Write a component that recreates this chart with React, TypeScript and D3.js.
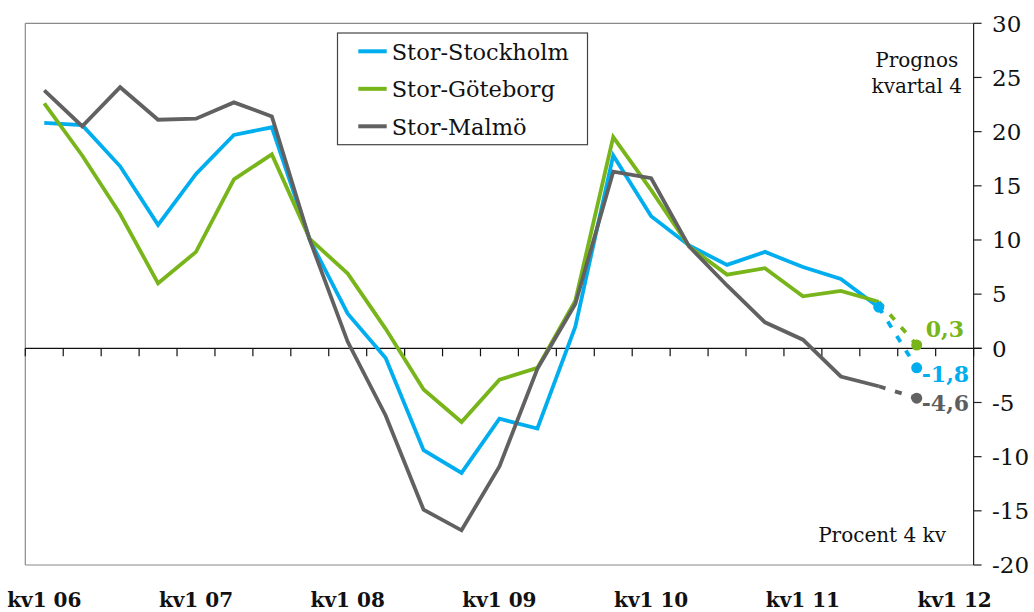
import React from "react";
import * as d3 from "d3";

const years = ["06", "07", "08", "09", "10", "11", "12"];
const quarters: string[] = [];
years.forEach((yr, yi) => {
  const n = yi === years.length - 1 ? 1 : 4;
  for (let q = 1; q <= n; q++) quarters.push(`kv${q} ${yr}`);
});
const xTickLabels = ["kv1 06", "kv1 07", "kv1 08", "kv1 09", "kv1 10", "kv1 11", "kv1 12"];
const yTicks = [30, 25, 20, 15, 10, 5, 0, -5, -10, -15, -20];

const seriesNames = ["Stor-Stockholm", "Stor-Göteborg", "Stor-Malmö"];
const stockholm = [20.8, 20.6, 16.8, 11.4, 16.1, 19.7, 20.4, 10.0, 3.2, -0.9, -9.4, -11.5, -6.5, -7.4, 2.0, 17.8, 12.2, 9.5, 7.7, 8.9, 7.5, 6.4, 3.8];
const goteborg = [22.6, 17.8, 12.4, 6.0, 8.9, 15.6, 17.9, 10.1, 6.9, 1.8, -3.8, -6.8, -2.9, -1.8, 4.4, 19.5, 14.6, 9.4, 6.8, 7.4, 4.8, 5.3, 4.3];
const malmo = [23.8, 20.5, 24.1, 21.1, 21.2, 22.7, 21.4, 10.0, 0.6, -6.2, -14.9, -16.8, -10.9, -1.9, 4.1, 16.3, 15.7, 9.4, 5.8, 2.4, 0.8, -2.6, -3.5];
const forecastQuarter = "kv4 11";
const forecast = [-1.8, 0.3, -4.6];
const forecastLabels = ["-1,8", "0,3", "-4,6"];

const colors = ["#00AEEF", "#78B51A", "#616161"];
const labelColors = ["#00AEEF", "#78B51A", "#5E5E5E"];
const labelDx = [5, 9, 5];
const labelDy = [14.5, -8.5, 12.5];

const W = 1034, H = 612;
const serif = "'DejaVu Serif', serif";

export default function App() {
  const x = d3.scaleBand<string>().domain(quarters).range([25.3, 973.6]).padding(0);
  const bw = x.bandwidth();
  const cx = (q: string) => (x(q) as number) + bw / 2;
  const y = d3.scaleLinear().domain([-20, 30]).range([565, 23.3]);
  const left = 25.3, right = 973.6, top = y(30), bottom = y(-20);

  const all = [stockholm, goteborg, malmo];
  const line = d3.line<number>().x((_, i) => cx(quarters[i])).y((d) => y(d));
  const lastQ = quarters[stockholm.length - 1];
  const fx = cx(forecastQuarter);

  const boundaries = d3.range(quarters.length + 1).map((k) => left + k * bw);

  return (
    <svg width={W} height={H} style={{ position: "absolute", left: 0, top: 0, background: "#fff" }} fontFamily={serif}>
      <rect x={0} y={0} width={W} height={H} fill="#fff" />
      {/* plot border */}
      <line x1={left} x2={right} y1={top} y2={top} stroke="#8a8a8a" strokeWidth={1.2} />
      <line x1={left} x2={left} y1={top} y2={bottom} stroke="#8a8a8a" strokeWidth={1.2} />
      <line x1={left} x2={right} y1={bottom} y2={bottom} stroke="#8a8a8a" strokeWidth={1.2} />
      {/* right axis */}
      <line x1={right} x2={right} y1={top} y2={bottom} stroke="#222" strokeWidth={1.2} />
      {yTicks.map((t) => (
        <g key={t}>
          <line x1={right} x2={right + 8} y1={y(t)} y2={y(t)} stroke="#222" strokeWidth={1.2} />
          <text x={992} y={y(t)} dy="0.36em" fontSize={23} fill="#111">{String(t)}</text>
        </g>
      ))}
      {/* zero line with category ticks */}
      <line x1={left} x2={right + 8} y1={y(0)} y2={y(0)} stroke="#111" strokeWidth={1.2} />
      {boundaries.map((bx, k) => (
        <line key={k} x1={bx} x2={bx} y1={y(0)} y2={y(0) + 8} stroke="#111" strokeWidth={1.2} />
      ))}
      {/* x labels */}
      {xTickLabels.map((l) => (
        <text key={l} x={cx(l)} y={607} textAnchor="middle" fontSize={20} fontWeight="bold" fill="#111">{l}</text>
      ))}
      {/* solid lines */}
      {all.map((s, si) => (
        <path key={si} d={line(s) || ""} fill="none" stroke={colors[si]} strokeWidth={3.8} strokeLinejoin="miter" />
      ))}
      {/* dashed forecast segments */}
      {all.map((s, si) => (
        <line key={"f" + si} x1={cx(lastQ)} y1={y(s[s.length - 1])} x2={fx} y2={y(forecast[si])}
          stroke={colors[si]} strokeWidth={3.8} strokeDasharray="7,10" />
      ))}
      <circle cx={cx(lastQ)} cy={y(stockholm[stockholm.length - 1])} r={5.5} fill={colors[0]} />
      {forecast.map((v, si) => (
        <circle key={"d" + si} cx={fx} cy={y(v)} r={5.5} fill={colors[si]} />
      ))}
      {forecast.map((v, si) => (
        <text key={"l" + si} x={fx + labelDx[si]} y={y(v) + labelDy[si]} fontSize={22} fontWeight="bold" fill={labelColors[si]}>
          {forecastLabels[si]}
        </text>
      ))}
      {/* annotations */}
      <text x={fx} y={66.7} textAnchor="middle" fontSize={20} fill="#111">Prognos</text>
      <text x={fx} y={93.3} textAnchor="middle" fontSize={20} fill="#111">kvartal 4</text>
      <text x={946} y={541.7} textAnchor="end" fontSize={20} fill="#111">Procent 4 kv</text>
      {/* legend */}
      <rect x={337.5} y={33} width={250} height={111.7} fill="#fff" stroke="#444" strokeWidth={1.2} />
      {seriesNames.map((n, i) => {
        const ly = 51.3 + i * 37.5;
        return (
          <g key={n}>
            <line x1={358.3} x2={386.7} y1={ly} y2={ly} stroke={colors[i]} strokeWidth={4} />
            <text x={391.7} y={ly + 8.5} fontSize={22.5} fill="#111">{n}</text>
          </g>
        );
      })}
    </svg>
  );
}
